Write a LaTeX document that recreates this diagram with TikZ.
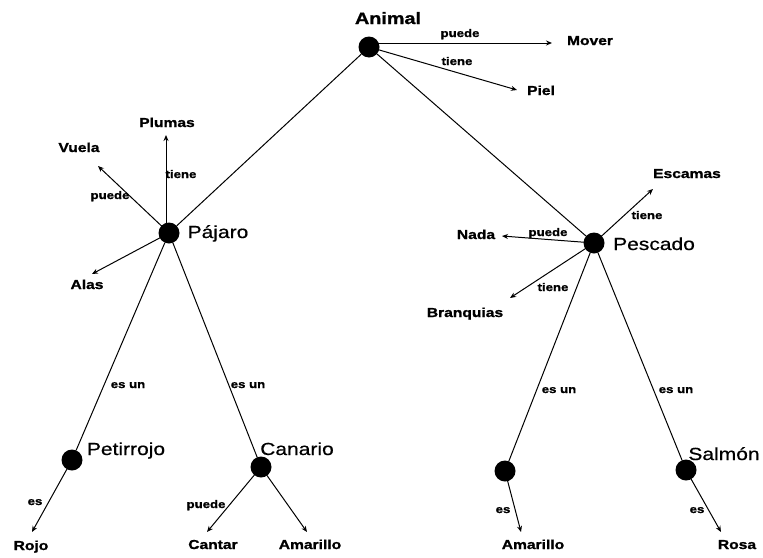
\documentclass[tikz,border=0pt]{standalone}
\usepackage{fontspec}
\setmainfont[FakeStretch=1.2,
  UprightFeatures={FakeBold=0.6},
  BoldFeatures={FakeBold=1.2}]{Liberation Sans}
\usetikzlibrary{arrows.meta}

\tikzset{
  concept/.style={circle, fill=black, inner sep=0pt, minimum size=21pt},
  bigname/.style={anchor=base, inner sep=0pt, font=\fontsize{17.5}{20}\selectfont},
  topname/.style={anchor=base, inner sep=0pt, font=\bfseries\fontsize{16.5}{19}\selectfont},
  leaf/.style={anchor=base, inner sep=0pt, font=\bfseries\fontsize{13}{15}\selectfont},
  rel/.style={anchor=base, inner sep=0pt, font=\bfseries\fontsize{11}{13}\selectfont},
  link/.style={line width=1pt},
  prop/.style={link, -{Stealth[length=6pt,width=5pt]}}
}

\begin{document}
\begin{tikzpicture}[x=1pt, y=-1pt]
\useasboundingbox[fill=white] (0,0) rectangle (763,557);

% concept dots
\node[concept] (an) at (369,47) {};
\node[concept] (pa) at (169,233) {};
\node[concept] (pe) at (594,243) {};
\node[concept] (pt) at (72,460) {};
\node[concept] (ca) at (261,467) {};
\node[concept] (fa) at (505,471) {};
\node[concept] (sa) at (686,470) {};

% concept names
\node[topname] (lan) at (388,24) {Animal};
\node[bigname] (lpa) at (218,238) {Pájaro};
\node[bigname] (lpe) at (654,250) {Pescado};
\node[bigname] (lpt) at (126,455) {Petirrojo};
\node[bigname] (lca) at (297,455) {Canario};
\node[bigname] (lsa) at (724,460) {Salmón};

% arrow tips of the property links
\coordinate (tMover) at (552,43);
\coordinate (tPiel) at (517,90);
\coordinate (tPlumas) at (166,135);
\coordinate (tVuela) at (98,166);
\coordinate (tAlas) at (92,274);
\coordinate (tEscamas) at (653,189);
\coordinate (tNada) at (502,236);
\coordinate (tBranquias) at (510,298);
\coordinate (tRojo) at (32,532);
\coordinate (tCantar) at (207,532);
\coordinate (tAmarilloA) at (307,532);
\coordinate (tAmarilloB) at (521,532);
\coordinate (tRosa) at (721,532);

% hierarchy links
\draw[link] (an) -- (pa);
\draw[link] (an) -- (pe);
\draw[link] (pa) -- (pt);
\draw[link] (pa) -- (ca);
\draw[link] (pe) -- (fa);
\draw[link] (pe) -- (sa);

% property links
\draw[prop] ([yshift=4pt]an.center) -- (tMover);
\draw[prop] (an.center) -- (tPiel);
\draw[prop] ([xshift=-3pt]pa.center) -- (tPlumas);
\draw[prop] (pa.center) -- (tVuela);
\draw[prop] (pa.center) -- (tAlas);
\draw[prop] (pe.center) -- (tEscamas);
\draw[prop] (pe.center) -- (tNada);
\draw[prop] (pe.center) -- (tBranquias);
\draw[prop] (pt.center) -- (tRojo);
\draw[prop] (ca.center) -- (tCantar);
\draw[prop] (ca.center) -- (tAmarilloA);
\draw[prop] (fa.center) -- (tAmarilloB);
\draw[prop] (sa.center) -- (tRosa);

% property values
\node[leaf] (mover) at (590,45) {Mover};
\node[leaf] (piel) at (541,95) {Piel};
\node[leaf] (plumas) at (167,127) {Plumas};
\node[leaf] (vuela) at (79,152) {Vuela};
\node[leaf] (alas) at (87,289) {Alas};
\node[leaf] (escamas) at (687,178) {Escamas};
\node[leaf] (nada) at (476,239) {Nada};
\node[leaf] (branquias) at (465,317) {Branquias};
\node[leaf] (rojo) at (31,550) {Rojo};
\node[leaf] (cantar) at (213,549) {Cantar};
\node[leaf] (amarilloA) at (310,549) {Amarillo};
\node[leaf] (amarilloB) at (533,549) {Amarillo};
\node[leaf] (rosa) at (737,549) {Rosa};

% relation names
\node[rel] (r1) at (460,37) {puede};
\node[rel] (r2) at (457,65) {tiene};
\node[rel] (r3) at (181,178) {tiene};
\node[rel] (r4) at (110,199) {puede};
\node[rel] (r5) at (647,219) {tiene};
\node[rel] (r6) at (548,236) {puede};
\node[rel] (r7) at (553,291) {tiene};
\node[rel] (r8) at (128,388) {es un};
\node[rel] (r9) at (248,388) {es un};
\node[rel] (r10) at (559,393) {es un};
\node[rel] (r11) at (676,393) {es un};
\node[rel] (r12) at (35,505) {es};
\node[rel] (r13) at (206,508) {puede};
\node[rel] (r14) at (503,513) {es};
\node[rel] (r15) at (697,513) {es};
\end{tikzpicture}
\end{document}
